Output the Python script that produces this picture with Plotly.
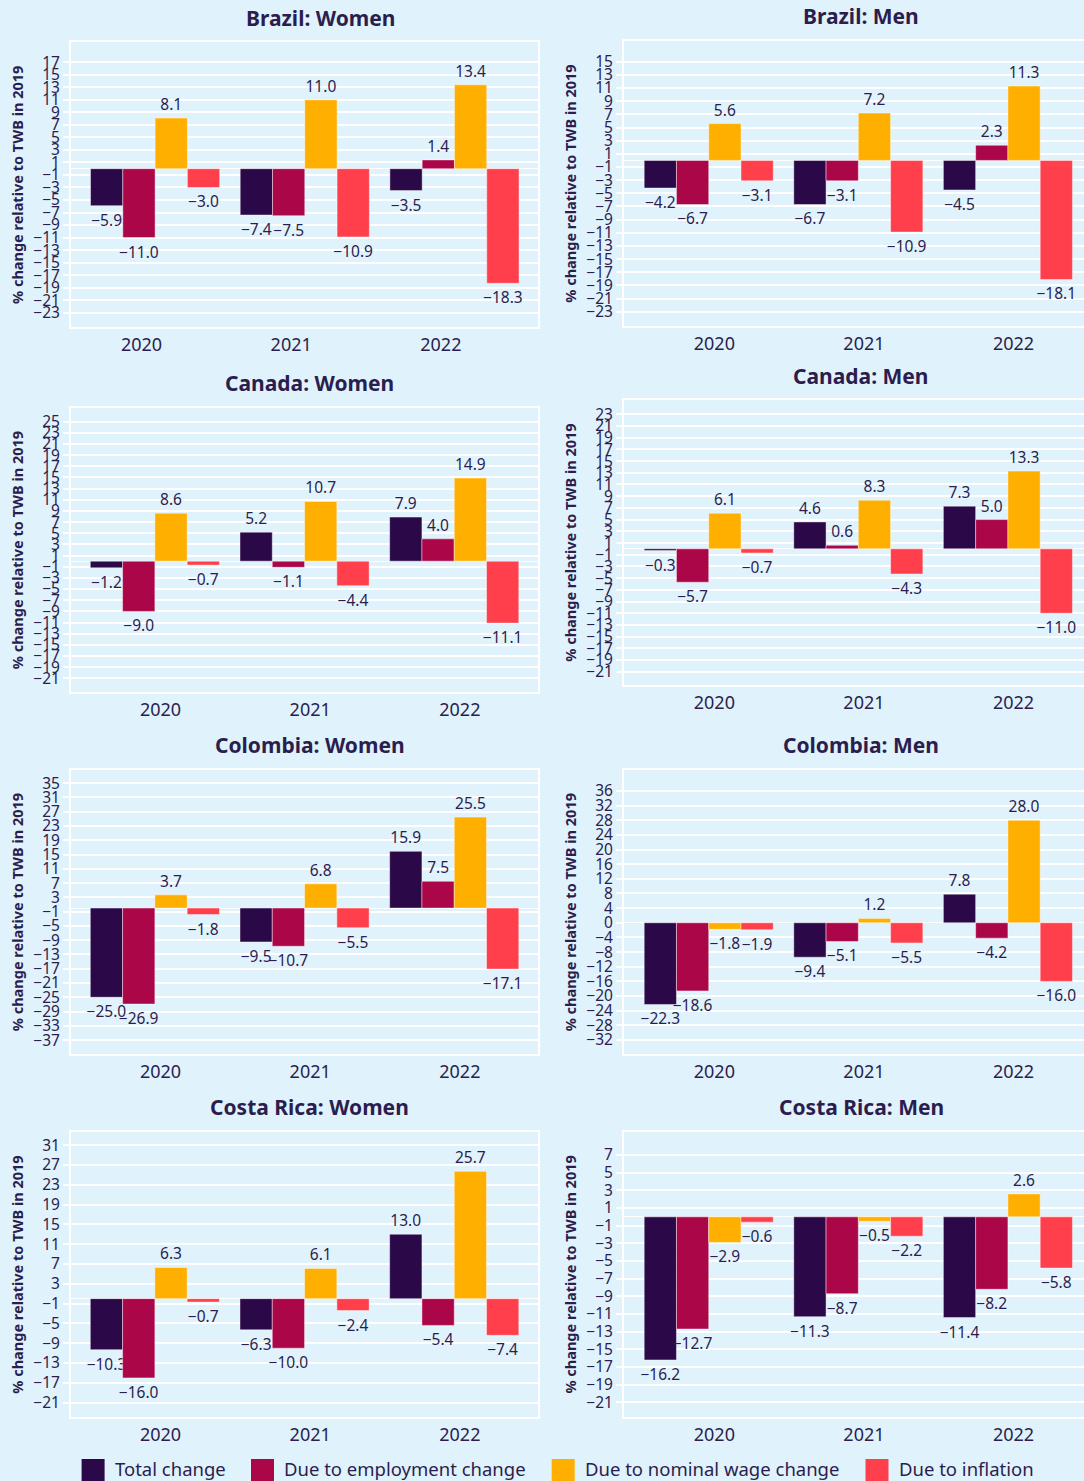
import plotly.graph_objects as go

# ---------------- data ----------------
years = ["2020", "2021", "2022"]
series_names = ["Total change", "Due to employment change",
                "Due to nominal wage change", "Due to inflation"]
series_colors = ["#2b0848", "#aa0648", "#ffaf00", "#ff404c"]

panel_titles = ["Brazil: Women", "Brazil: Men", "Canada: Women", "Canada: Men",
                "Colombia: Women", "Colombia: Men", "Costa Rica: Women", "Costa Rica: Men"]

brazil_women_total = [-5.9, -7.4, -3.5]
brazil_women_employment = [-11.0, -7.5, 1.4]
brazil_women_wage = [8.1, 11.0, 13.4]
brazil_women_inflation = [-3.0, -10.9, -18.3]

brazil_men_total = [-4.2, -6.7, -4.5]
brazil_men_employment = [-6.7, -3.1, 2.3]
brazil_men_wage = [5.6, 7.2, 11.3]
brazil_men_inflation = [-3.1, -10.9, -18.1]

canada_women_total = [-1.2, 5.2, 7.9]
canada_women_employment = [-9.0, -1.1, 4.0]
canada_women_wage = [8.6, 10.7, 14.9]
canada_women_inflation = [-0.7, -4.4, -11.1]

canada_men_total = [-0.3, 4.6, 7.3]
canada_men_employment = [-5.7, 0.6, 5.0]
canada_men_wage = [6.1, 8.3, 13.3]
canada_men_inflation = [-0.7, -4.3, -11.0]

colombia_women_total = [-25.0, -9.5, 15.9]
colombia_women_employment = [-26.9, -10.7, 7.5]
colombia_women_wage = [3.7, 6.8, 25.5]
colombia_women_inflation = [-1.8, -5.5, -17.1]

colombia_men_total = [-22.3, -9.4, 7.8]
colombia_men_employment = [-18.6, -5.1, -4.2]
colombia_men_wage = [-1.8, 1.2, 28.0]
colombia_men_inflation = [-1.9, -5.5, -16.0]

costa_rica_women_total = [-10.3, -6.3, 13.0]
costa_rica_women_employment = [-16.0, -10.0, -5.4]
costa_rica_women_wage = [6.3, 6.1, 25.7]
costa_rica_women_inflation = [-0.7, -2.4, -7.4]

costa_rica_men_total = [-16.2, -11.3, -11.4]
costa_rica_men_employment = [-12.7, -8.7, -8.2]
costa_rica_men_wage = [-2.9, -0.5, 2.6]
costa_rica_men_inflation = [-0.6, -2.2, -5.8]

# y tick values of each panel
brazil_women_ticks = list(range(-23, 18, 2))
brazil_men_ticks = list(range(-23, 16, 2))
canada_women_ticks = list(range(-21, 26, 2))
canada_men_ticks = list(range(-21, 24, 2))
colombia_women_ticks = list(range(-37, 36, 4))
colombia_men_ticks = list(range(-32, 37, 4))
costa_rica_women_ticks = list(range(-21, 32, 4))
costa_rica_men_ticks = list(range(-21, 8, 2))

panel_values = [
    [brazil_women_total, brazil_women_employment, brazil_women_wage, brazil_women_inflation],
    [brazil_men_total, brazil_men_employment, brazil_men_wage, brazil_men_inflation],
    [canada_women_total, canada_women_employment, canada_women_wage, canada_women_inflation],
    [canada_men_total, canada_men_employment, canada_men_wage, canada_men_inflation],
    [colombia_women_total, colombia_women_employment, colombia_women_wage, colombia_women_inflation],
    [colombia_men_total, colombia_men_employment, colombia_men_wage, colombia_men_inflation],
    [costa_rica_women_total, costa_rica_women_employment, costa_rica_women_wage, costa_rica_women_inflation],
    [costa_rica_men_total, costa_rica_men_employment, costa_rica_men_wage, costa_rica_men_inflation],
]
panel_ticks = [brazil_women_ticks, brazil_men_ticks, canada_women_ticks, canada_men_ticks,
               colombia_women_ticks, colombia_men_ticks, costa_rica_women_ticks, costa_rica_men_ticks]

# ---------------- layout geometry (pixels) ----------------
W, H = 1084, 1481
BG = "#e0f2fc"
TXT = "#2b1e4e"
FONT = "Noto Sans"

# plot-area boxes: (left, right, top, bottom) in px
boxes = [
    (71, 538, 42.3, 327.3), (624, 1084, 41, 326),
    (71, 538, 407.7, 692.3), (624, 1084, 400, 685),
    (71, 538, 770, 1054), (624, 1084, 770, 1054.3),
    (71, 538, 1131.7, 1417.3), (624, 1084, 1131.7, 1417),
]
y_ranges = [(-25.33, 20.19), (-25.17, 18.15), (-23.5, 27.5), (-23.27, 25.44),
            (-40.9, 38.7), (-35.9, 41.7), (-23.95, 33.7), (-22.66, 9.64)]
x_ranges = [(-0.471, 2.649), (-0.604, 2.471), (-0.598, 2.522), (-0.604, 2.471),
            (-0.598, 2.522), (-0.604, 2.471), (-0.598, 2.522), (-0.604, 2.471)]
group_left = [-0.3405, -0.469, -0.469, -0.469, -0.469, -0.469, -0.469, -0.469]
bar_w = 0.2157
title_pos = [(320, 17.5), (861, 16), (309.5, 383.3), (861, 376.3),
             (309.5, 745), (861, 745), (309.5, 1107.3), (861, 1107)]


def fmt(v):
    return f"{v:.1f}".replace("-", "\u2212")


fig = go.Figure()
layout = dict(
    width=W, height=H, margin=dict(l=0, r=0, t=0, b=0),
    paper_bgcolor=BG, plot_bgcolor=BG, showlegend=False,
    font=dict(family=FONT, color=TXT, size=15),
    barmode="overlay", annotations=[], shapes=[],
)

for p in range(8):
    sfx = "" if p == 0 else str(p + 1)
    l, r, t, b = boxes[p]
    for k in range(4):
        vals = panel_values[p][k]
        fig.add_trace(go.Bar(
            x=years, y=vals, name=series_names[k],
            xaxis="x" + sfx, yaxis="y" + sfx,
            marker=dict(color=series_colors[k],
                        line=dict(color="rgba(255,255,255,0.55)", width=0.8)),
            width=bar_w, offset=group_left[p] + k * bar_w,
            text=[fmt(v) for v in vals], textposition="outside",
            textfont=dict(size=15.5, color=TXT, family=FONT),
            constraintext="none", cliponaxis=False,
            showlegend=False, hoverinfo="x+y+name",
        ))
    left_col = (p % 2 == 0)
    layout["xaxis" + sfx] = dict(
        domain=[l / W, r / W], anchor="y" + sfx, type="category",
        range=list(x_ranges[p]), showgrid=False, zeroline=False,
        showline=True, mirror=True, linecolor="white", linewidth=2,
        ticks="", tickfont=dict(size=18, color=TXT, family=FONT),
        fixedrange=True,
    )
    layout["yaxis" + sfx] = dict(
        domain=[1 - b / H, 1 - t / H], anchor="x" + sfx,
        range=list(y_ranges[p]), tickmode="array", tickvals=panel_ticks[p],
        showgrid=True, gridcolor="white", gridwidth=1.5,
        zeroline=True, zerolinecolor="white", zerolinewidth=1,
        showline=True, mirror=left_col, linecolor="white", linewidth=2,
        ticks="outside", ticklen=6, tickcolor="white", tickwidth=1.5,
        tickfont=dict(size=15.5, color=TXT, family=FONT),
        title=dict(text="<b>% change relative to TWB in 2019</b>", standoff=6,
                   font=dict(size=14.5, color=TXT, family=FONT)),
        automargin=False, fixedrange=True,
    )
    tx, ty = title_pos[p]
    layout["annotations"].append(dict(
        text="<b>" + panel_titles[p] + "</b>", xref="paper", yref="paper",
        x=tx / W, y=1 - ty / H, xanchor="center", yanchor="middle",
        showarrow=False, font=dict(size=21, color=TXT, family=FONT),
    ))

# legend drawn as swatches + labels along the bottom
legend_x = [81.6, 251, 551.7, 865.5]
for k in range(4):
    x0 = legend_x[k]
    layout["shapes"].append(dict(
        type="rect", xref="paper", yref="paper",
        x0=x0 / W, x1=(x0 + 23) / W, y0=1 - 1459 / H, y1=1 - 1492 / H,
        fillcolor=series_colors[k], line=dict(width=0),
    ))
    layout["annotations"].append(dict(
        text=series_names[k], xref="paper", yref="paper",
        x=(x0 + 31) / W, y=1 - 1468 / H, xanchor="left", yanchor="middle",
        showarrow=False, font=dict(size=18.5, color=TXT, family=FONT),
    ))

fig.update_layout(**layout)

post = ("document.documentElement.style.background='%s';"
        "document.body.style.margin='0';document.body.style.background='%s';"
        "document.body.style.overflow='hidden';") % (BG, BG)
fig.write_html("out.html", post_script=post,
               config={"displayModeBar": False, "staticPlot": False})
